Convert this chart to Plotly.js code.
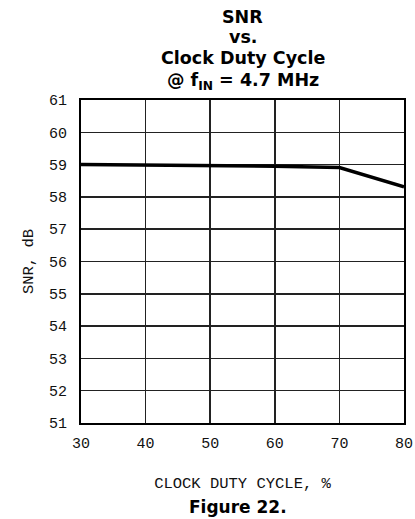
<!DOCTYPE html>
<html>
<head>
<meta charset="utf-8">
<script src="https://cdn.plot.ly/plotly-3.0.1.min.js"></script>
<style>html,body{margin:0;padding:0;background:#fff;}#chart{width:415px;height:519px;}</style>
</head>
<body>
<div id="chart"></div>
<script>
// Data
var dutyCycle = [30, 40, 50, 60, 70, 80];          // CLOCK DUTY CYCLE, %
var snr = [59.0, 58.99, 58.97, 58.95, 58.91, 58.31]; // SNR, dB
var xTicks = [30, 40, 50, 60, 70, 80];
var yTicks = [51, 52, 53, 54, 55, 56, 57, 58, 59, 60, 61];
var titleLines = ['SNR', 'vs.', 'Clock Duty Cycle', '@ f<sub>IN</sub> = 4.7 MHz'];
var caption = 'Figure 22.';

var W = 415, H = 519;
var M = {l: 81, r: 11, t: 100, b: 96};
var plotH = H - M.t - M.b;
function py(p) { return (H - M.b - p) / plotH; } // pixel y -> paper y

var titleCenters = [17.5, 37.5, 57.5, 81];
var annotations = titleLines.map(function (t, i) {
  return {
    text: t, xref: 'paper', yref: 'paper', x: 0.5, y: py(titleCenters[i]),
    xanchor: 'center', yanchor: 'middle', showarrow: false,
    font: {family: 'DejaVu Sans', size: 17.5, color: '#000', weight: 'bold'}
  };
});
annotations.push({
  text: caption, xref: 'paper', yref: 'paper', x: (237.5 - M.l) / (W - M.l - M.r), y: py(507),
  xanchor: 'center', yanchor: 'middle', showarrow: false,
  font: {family: 'DejaVu Sans', size: 17, color: '#000', weight: 'bold'}
});

var monoFont = {family: 'Liberation Mono', size: 15, color: '#111'};
var axTitleFont = {family: 'Liberation Mono', size: 15.5, color: '#111'};

Plotly.newPlot('chart', [{
  x: dutyCycle, y: snr, type: 'scatter', mode: 'lines',
  line: {color: '#000', width: 3.5}, hoverinfo: 'skip'
}], {
  width: W, height: H, margin: M,
  paper_bgcolor: '#fff', plot_bgcolor: '#fff',
  showlegend: false,
  annotations: annotations,
  xaxis: {
    range: [30, 80], tickvals: xTicks, ticktext: xTicks.map(String),
    showgrid: true, gridcolor: '#222', gridwidth: 1.5,
    showline: true, linecolor: '#000', linewidth: 2, mirror: true,
    zeroline: false, ticks: '', ticklabelstandoff: 5,
    tickfont: monoFont,
    title: {text: 'CLOCK DUTY CYCLE, %', font: axTitleFont, standoff: 25}
  },
  yaxis: {
    range: [51, 61], tickvals: yTicks, ticktext: yTicks.map(String),
    showgrid: true, gridcolor: '#222', gridwidth: 1.5,
    showline: true, linecolor: '#000', linewidth: 2, mirror: true,
    zeroline: false, ticks: '', ticklabelstandoff: 9,
    tickfont: monoFont,
    title: {text: 'SNR, dB', font: axTitleFont, standoff: 12}
  }
}, {staticPlot: true});
</script>
</body>
</html>
